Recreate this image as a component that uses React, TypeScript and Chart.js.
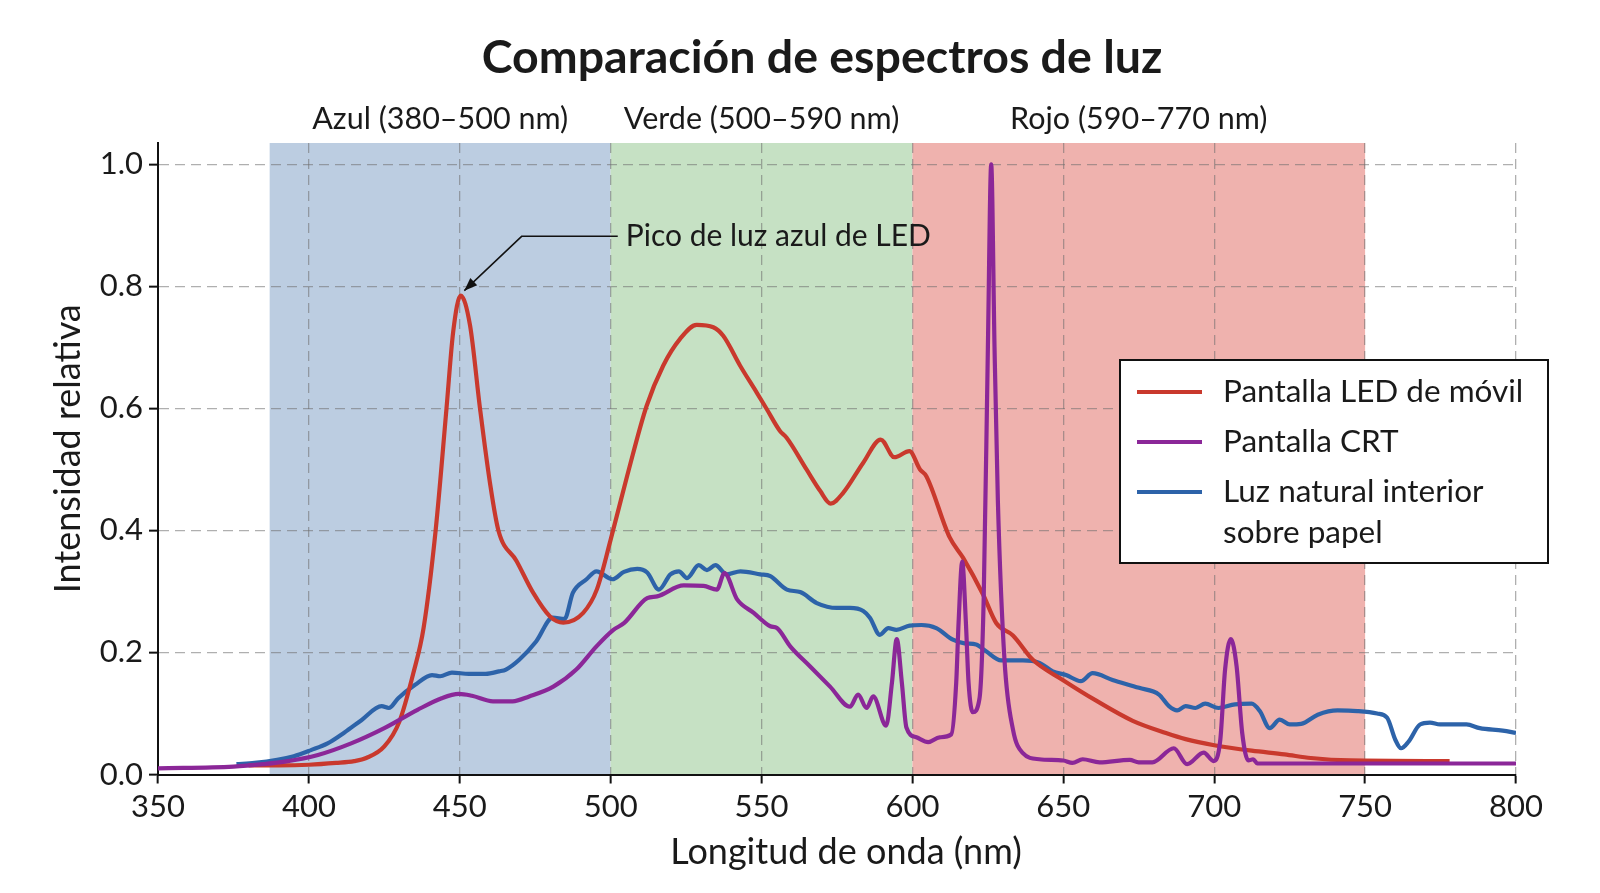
import React, { useEffect, useRef } from 'react';
import { Chart, registerables } from 'chart.js';

Chart.register(...registerables);

const FONT = 'Lato, "Noto Sans", sans-serif';
const TEXT = '#1a1a1a';

// Wavelength (nm) / relative intensity for each light source
const ledNm = [380, 390, 400, 409, 415, 419, 425, 430, 434.6, 438, 442, 445.6, 447.8, 450.3, 453.4, 456.7, 460, 462.8, 468.8, 474.3, 479.9, 484.3, 490.9, 495.4, 500, 505.5, 511.9, 517.4, 523, 528.5, 534, 537.3, 542.9, 548.4, 551.7, 556.1, 558.3, 564.9, 569.4, 572.9, 577.1, 583.7, 589.5, 594, 599, 602.5, 604.6, 612.3, 616.8, 623.4, 627.8, 633.3, 639.9, 649.8, 660.9, 673, 684, 690.5, 700, 712.4, 723.3, 732, 745, 778];
const ledVal = [0.015, 0.015, 0.016, 0.019, 0.022, 0.027, 0.046, 0.087, 0.166, 0.24, 0.4, 0.6, 0.725, 0.785, 0.736, 0.6, 0.478, 0.4, 0.35, 0.298, 0.259, 0.249, 0.265, 0.303, 0.385, 0.49, 0.604, 0.67, 0.714, 0.737, 0.733, 0.719, 0.67, 0.626, 0.599, 0.563, 0.552, 0.5, 0.465, 0.444, 0.462, 0.511, 0.549, 0.52, 0.53, 0.5, 0.489, 0.389, 0.355, 0.295, 0.248, 0.228, 0.188, 0.155, 0.121, 0.088, 0.068, 0.058, 0.048, 0.039, 0.033, 0.027, 0.023, 0.022];

const crtNm = [350, 375, 385, 392, 403, 414, 425, 436, 444, 449.7, 454, 461, 467.5, 473, 481, 488.6, 495.3, 500.9, 504.4, 512.1, 515.4, 524.2, 530.8, 535.2, 537.7, 541.9, 547.4, 552.9, 555.1, 559.5, 566.1, 572.7, 579.3, 582, 584.8, 587, 591.3, 593.2, 594.8, 596.5, 598, 601.3, 605.2, 609, 612.9, 614.5, 615.3, 616.5, 617.7, 618.6, 620, 622.2, 623.6, 625, 626.1, 627.2, 628.3, 630.5, 633.3, 636.6, 642, 650, 653, 656.4, 662, 672, 675, 679.5, 686.6, 691, 696.5, 699.8, 702, 703.6, 705.5, 707.4, 709.3, 711.3, 712.9, 714.3, 800];
const crtVal = [0.01, 0.013, 0.017, 0.021, 0.032, 0.051, 0.076, 0.106, 0.125, 0.132, 0.129, 0.12, 0.12, 0.128, 0.144, 0.172, 0.21, 0.237, 0.248, 0.289, 0.292, 0.31, 0.309, 0.303, 0.33, 0.287, 0.265, 0.243, 0.24, 0.21, 0.177, 0.144, 0.111, 0.131, 0.109, 0.128, 0.08, 0.15, 0.222, 0.15, 0.077, 0.061, 0.053, 0.061, 0.066, 0.15, 0.25, 0.349, 0.25, 0.15, 0.102, 0.124, 0.286, 0.7, 1.0, 0.7, 0.45, 0.188, 0.074, 0.035, 0.025, 0.023, 0.019, 0.025, 0.02, 0.024, 0.02, 0.02, 0.043, 0.017, 0.036, 0.022, 0.056, 0.172, 0.222, 0.178, 0.067, 0.023, 0.025, 0.018, 0.018];

const natNm = [376, 382, 389.5, 395, 400.7, 406.2, 411.8, 417.4, 424.1, 426.5, 429.6, 435.2, 440.8, 443.5, 447.4, 453, 458.6, 463, 465.3, 469.7, 475.3, 480.8, 484.7, 487.5, 492, 495.3, 500.6, 504.4, 508.8, 512.1, 516, 519.8, 522.6, 525.3, 529.2, 531.9, 534.7, 538.5, 543, 549.6, 552.9, 558.4, 562.8, 568.3, 574.9, 579.3, 583.7, 585.9, 589.2, 592, 594.7, 599.1, 603, 607.9, 613.4, 617.3, 621.1, 624.4, 629.4, 636.6, 642.1, 646.5, 650.9, 655.8, 659.7, 666.3, 675.1, 681.7, 685, 687.7, 690.5, 693.8, 697, 701.4, 706.9, 712.4, 715.1, 718.4, 721.7, 725, 728.8, 734.3, 740.9, 747.4, 754, 757.3, 760, 761.9, 764.4, 768.2, 771.5, 774.8, 783.6, 788, 795.6, 800];
const natVal = [0.017, 0.019, 0.024, 0.03, 0.04, 0.051, 0.069, 0.089, 0.112, 0.109, 0.125, 0.147, 0.163, 0.161, 0.167, 0.165, 0.165, 0.169, 0.172, 0.188, 0.218, 0.257, 0.255, 0.298, 0.32, 0.333, 0.32, 0.332, 0.337, 0.331, 0.303, 0.328, 0.333, 0.322, 0.343, 0.335, 0.343, 0.328, 0.333, 0.328, 0.325, 0.303, 0.299, 0.281, 0.273, 0.273, 0.268, 0.257, 0.229, 0.24, 0.237, 0.244, 0.245, 0.24, 0.221, 0.215, 0.213, 0.202, 0.187, 0.187, 0.183, 0.169, 0.163, 0.153, 0.166, 0.155, 0.142, 0.131, 0.112, 0.105, 0.112, 0.109, 0.116, 0.109, 0.115, 0.116, 0.104, 0.076, 0.09, 0.082, 0.083, 0.098, 0.105, 0.104, 0.1, 0.093, 0.057, 0.043, 0.054, 0.082, 0.085, 0.082, 0.082, 0.076, 0.072, 0.068];

const seriesLabels = [['Pantalla LED de móvil'], ['Pantalla CRT'], ['Luz natural interior', 'sobre papel']];
const seriesColors = ['#c9392d', '#8b2798', '#2d63a9'];

// Colour regions of the visible spectrum
const bandNames = ['Azul (380–500 nm)', 'Verde (500–590 nm)', 'Rojo (590–770 nm)'];
const bandStart = [387, 500, 600];
const bandEnd = [500, 600, 750];
const bandColors = ['#bccde1', '#c6e1c4', '#efb2ae'];

const xMin = 350;
const xMax = 800;
const xStep = 50;
const yMin = 0;
const yMax = 1.035;
const yTickValues = [0, 0.2, 0.4, 0.6, 0.8, 1.0];

const chartTitle = 'Comparación de espectros de luz';
const xTitle = 'Longitud de onda (nm)';
const yTitle = 'Intensidad relativa';

// Callout for the blue LED peak: text anchor, elbow and tip in data units
const calloutText = 'Pico de luz azul de LED';
const calloutTextAt = { x: 505, y: 0.882 };
const calloutElbow = { x: 470.5, y: 0.882 };
const calloutTip = { x: 451.5, y: 0.793 };

const toPoints = (xs: number[], ys: number[]) => xs.map((x, i) => ({ x, y: ys[i] }));

const decorations = {
  id: 'decorations',
  beforeDraw(chart: any) {
    const { ctx, chartArea, scales } = chart;
    const xs = scales.x;
    ctx.save();
    bandStart.forEach((s, i) => {
      const x0 = xs.getPixelForValue(s);
      const x1 = xs.getPixelForValue(bandEnd[i]);
      ctx.fillStyle = bandColors[i];
      ctx.fillRect(x0, chartArea.top, x1 - x0, chartArea.bottom - chartArea.top);
    });
    ctx.restore();
  },
  afterDraw(chart: any) {
    const { ctx, chartArea, scales } = chart;
    const xs = scales.x;
    const ys = scales.y;
    ctx.save();
    ctx.fillStyle = TEXT;

    // Title
    ctx.font = `bold 46.5px ${FONT}`;
    ctx.textAlign = 'center';
    ctx.textBaseline = 'alphabetic';
    ctx.fillText(chartTitle, 822, 73);

    // Band captions centred over each band
    ctx.font = `30.5px ${FONT}`;
    bandNames.forEach((name, i) => {
      const cx = (xs.getPixelForValue(bandStart[i]) + xs.getPixelForValue(bandEnd[i])) / 2;
      ctx.fillText(name, cx, 129);
    });

    // Axis titles
    ctx.font = `36px ${FONT}`;
    ctx.fillText(xTitle, (chartArea.left + chartArea.right) / 2 + 9, 864);
    ctx.save();
    ctx.translate(80, (chartArea.top + chartArea.bottom) / 2 - 10);
    ctx.rotate(-Math.PI / 2);
    ctx.fillText(yTitle, 0, 0);
    ctx.restore();

    // Callout
    const tx = xs.getPixelForValue(calloutTextAt.x);
    const ty = ys.getPixelForValue(calloutTextAt.y);
    const ex = xs.getPixelForValue(calloutElbow.x);
    const ey = ys.getPixelForValue(calloutElbow.y);
    const px = xs.getPixelForValue(calloutTip.x);
    const py = ys.getPixelForValue(calloutTip.y);
    ctx.strokeStyle = '#111';
    ctx.lineWidth = 1.5;
    ctx.beginPath();
    ctx.moveTo(tx - 8, ty);
    ctx.lineTo(ex, ey);
    ctx.lineTo(px, py);
    ctx.stroke();
    const ang = Math.atan2(py - ey, px - ex);
    const ah = 13;
    const aw = 5;
    ctx.fillStyle = '#111';
    ctx.beginPath();
    ctx.moveTo(px, py);
    ctx.lineTo(px - ah * Math.cos(ang) + aw * Math.sin(ang), py - ah * Math.sin(ang) - aw * Math.cos(ang));
    ctx.lineTo(px - ah * Math.cos(ang) - aw * Math.sin(ang), py - ah * Math.sin(ang) + aw * Math.cos(ang));
    ctx.closePath();
    ctx.fill();
    ctx.fillStyle = TEXT;
    ctx.font = `30px ${FONT}`;
    ctx.textAlign = 'left';
    ctx.textBaseline = 'middle';
    ctx.fillText(calloutText, tx, ty);

    // Legend box
    const lx = 1120;
    const ly = 360;
    const lw = 428;
    const lh = 203;
    ctx.fillStyle = '#ffffff';
    ctx.fillRect(lx, ly, lw, lh);
    ctx.strokeStyle = '#111';
    ctx.lineWidth = 2;
    ctx.strokeRect(lx, ly, lw, lh);
    ctx.font = `31.5px ${FONT}`;
    ctx.textAlign = 'left';
    ctx.textBaseline = 'middle';
    let rowY = ly + 32;
    seriesLabels.forEach((lines, i) => {
      ctx.strokeStyle = seriesColors[i];
      ctx.lineWidth = 4;
      ctx.beginPath();
      ctx.moveTo(lx + 17, rowY);
      ctx.lineTo(lx + 82, rowY);
      ctx.stroke();
      ctx.fillStyle = TEXT;
      lines.forEach((line, j) => ctx.fillText(line, lx + 103, rowY + j * 41));
      rowY += 50;
    });
    ctx.restore();
  },
};

export default function App() {
  const canvasRef = useRef<HTMLCanvasElement | null>(null);

  useEffect(() => {
    const canvas = canvasRef.current;
    if (!canvas) return;
    const lineSet = (label: string, xs: number[], vs: number[], color: string, order: number) => ({
      label,
      data: toPoints(xs, vs),
      borderColor: color,
      backgroundColor: color,
      borderWidth: 4.2,
      pointRadius: 0,
      cubicInterpolationMode: 'monotone' as const,
      fill: false,
      order,
    });
    const gridOpts = {
      color: 'rgba(110,110,110,0.55)',
      lineWidth: 1.3,
      tickLength: 9,
      tickColor: '#111',
      tickWidth: 2,
    };
    const chart = new Chart(canvas, {
      type: 'line',
      data: {
        datasets: [
          lineSet(seriesLabels[0].join(' '), ledNm, ledVal, seriesColors[0], 1),
          lineSet(seriesLabels[1].join(' '), crtNm, crtVal, seriesColors[1], 0),
          lineSet(seriesLabels[2].join(' '), natNm, natVal, seriesColors[2], 2),
        ],
      },
      options: {
        responsive: false,
        animation: false,
        devicePixelRatio: 1,
        layout: { padding: { top: 143, right: 84, left: 0, bottom: 0 } },
        plugins: {
          legend: { display: false },
          title: { display: false },
          tooltip: { enabled: false },
        },
        scales: {
          x: {
            type: 'linear',
            min: xMin,
            max: xMax,
            ticks: {
              stepSize: xStep,
              autoSkip: false,
              maxRotation: 0,
              padding: 5,
              color: TEXT,
              font: { family: FONT, size: 31 },
            },
            grid: gridOpts,
            border: { display: true, color: '#111', width: 2, dash: [10, 6] },
            afterFit: (s: any) => {
              s.height = 118.5;
            },
          },
          y: {
            type: 'linear',
            min: yMin,
            max: yMax,
            ticks: {
              padding: 6,
              color: TEXT,
              font: { family: FONT, size: 31 },
              callback: (v: any) => Number(v).toFixed(1),
            },
            afterBuildTicks: (s: any) => {
              s.ticks = yTickValues.map((value) => ({ value }));
            },
            grid: gridOpts,
            border: { display: true, color: '#111', width: 2, dash: [10, 6] },
            afterFit: (s: any) => {
              s.width = 158;
            },
          },
        },
      },
      plugins: [decorations],
    });
    return () => chart.destroy();
  }, []);

  return (
    <div style={{ position: 'absolute', left: 0, top: 0, width: 1600, height: 893, background: '#fff' }}>
      <canvas ref={canvasRef} width={1600} height={893} style={{ width: 1600, height: 893, display: 'block' }} />
    </div>
  );
}
